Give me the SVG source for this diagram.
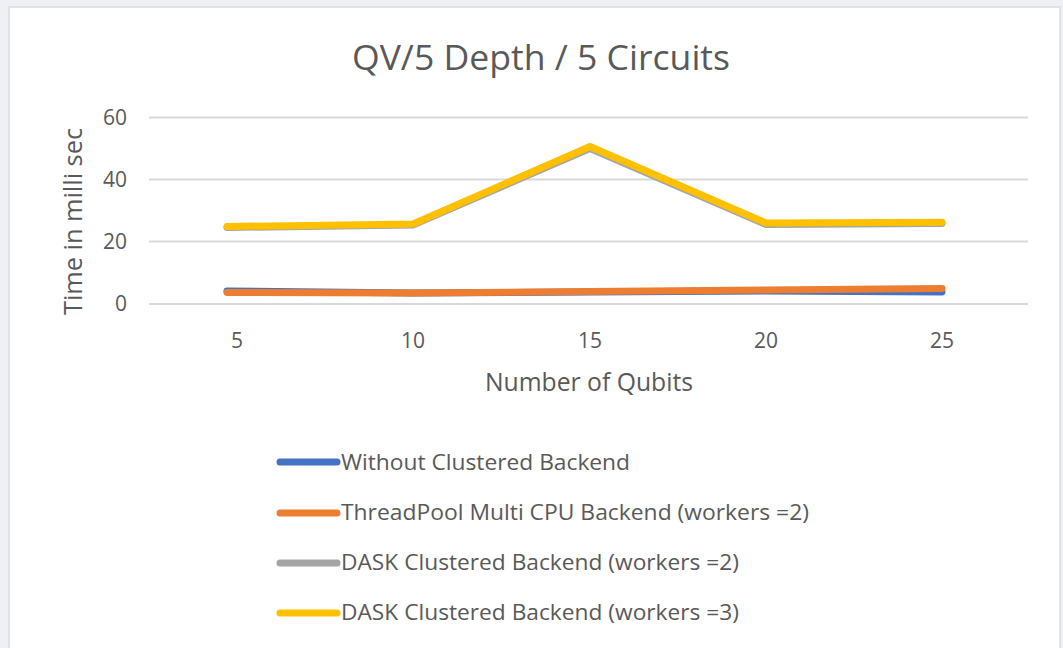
<svg xmlns="http://www.w3.org/2000/svg" width="1063" height="648" viewBox="0 0 1063 648">
<style>
text{font-family:"Open Sans","Liberation Sans",sans-serif;fill:#595959}
.grid{stroke:#d9d9d9;stroke-width:2}
.tick{font-size:21px}
.s{fill:none;stroke-width:7;stroke-linecap:round;stroke-linejoin:round}
.blue{stroke:#4472c4}.orange{stroke:#ed7d31}.grey{stroke:#a5a5a5}.yellow{stroke:#ffc000}
.leg{font-size:22.5px}
</style>
<rect x="0" y="0" width="1063" height="648" fill="#eef0f5"/>
<rect x="9" y="7" width="1051" height="645" fill="#ffffff" stroke="#dcdcdc" stroke-width="1.5"/>
<text x="541" y="70" font-size="35" text-anchor="middle" textLength="378" lengthAdjust="spacingAndGlyphs">QV/5 Depth / 5 Circuits</text>
<g id="grid">
<line class="grid" x1="149" y1="117.5" x2="1028" y2="117.5"/>
<line class="grid" x1="149" y1="179.5" x2="1028" y2="179.5"/>
<line class="grid" x1="149" y1="241.5" x2="1028" y2="241.5"/>
<line class="grid" x1="149" y1="304" x2="1028" y2="304"/>
</g>
<g id="yticks" class="tick" text-anchor="end">
<text x="127" y="125">60</text>
<text x="127" y="187">40</text>
<text x="127" y="249">20</text>
<text x="127" y="311">0</text>
</g>
<g id="xticks" class="tick" text-anchor="middle">
<text x="237" y="348">5</text>
<text x="413" y="348">10</text>
<text x="590" y="348">15</text>
<text x="766" y="348">20</text>
<text x="942" y="348">25</text>
</g>
<text x="589" y="391" font-size="25" text-anchor="middle" textLength="208" lengthAdjust="spacingAndGlyphs">Number of Qubits</text>
<text transform="translate(82,221.5) rotate(-90)" font-size="26" text-anchor="middle" textLength="187" lengthAdjust="spacingAndGlyphs">Time in milli sec</text>
<g id="connectors">
<polyline class="s blue" points="227,291 413,293 590,292 766,291 942,292"/>
<polyline class="s orange" points="227,292.5 413,293 590,291.5 766,290 942,288.5"/>
<polyline class="s grey" points="227,227.5 413,225 590,148.5 766,224.5 942,223.5"/>
<polyline class="s yellow" points="227,226.5 413,224 590,146.5 766,223 942,222.3"/>
</g>
<g id="legend">
<g id="leg1"><line class="s blue" x1="280" y1="462" x2="337" y2="462"/><text class="leg" x="341" y="470" textLength="289" lengthAdjust="spacingAndGlyphs">Without Clustered Backend</text></g>
<g id="leg2"><line class="s orange" x1="280" y1="513" x2="337" y2="513"/><text class="leg" x="341" y="520" textLength="468" lengthAdjust="spacingAndGlyphs">ThreadPool Multi CPU Backend (workers =2)</text></g>
<g id="leg3"><line class="s grey" x1="280" y1="563" x2="337" y2="563"/><text class="leg" x="341" y="570" textLength="398" lengthAdjust="spacingAndGlyphs">DASK Clustered Backend (workers =2)</text></g>
<g id="leg4"><line class="s yellow" x1="280" y1="613" x2="337" y2="613"/><text class="leg" x="341" y="620" textLength="398" lengthAdjust="spacingAndGlyphs">DASK Clustered Backend (workers =3)</text></g>
</g>
</svg>
